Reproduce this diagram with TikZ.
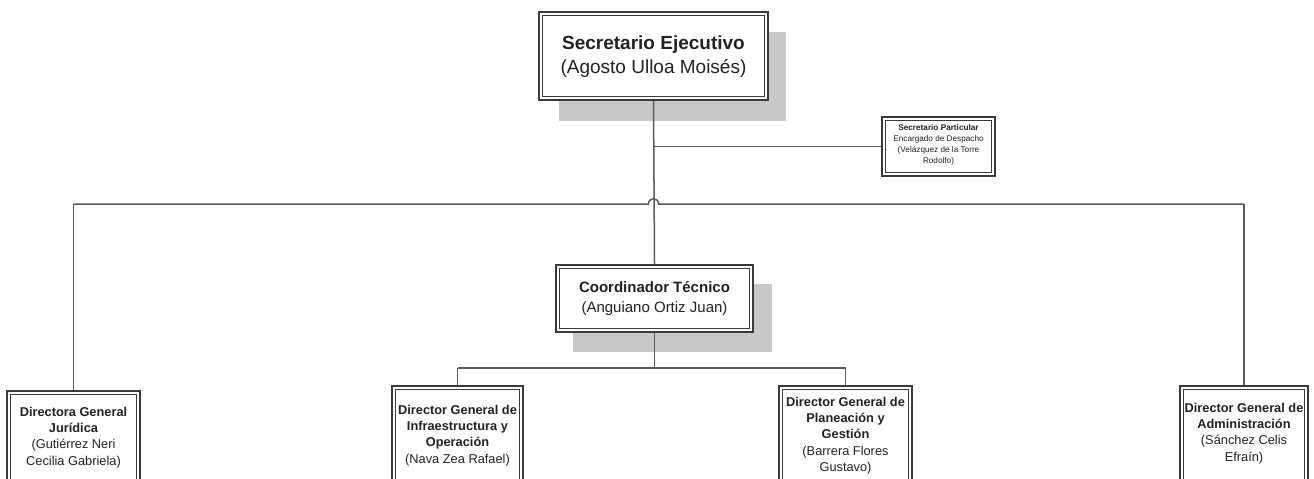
\documentclass[tikz,border=0pt]{standalone}
\usepackage{fontspec}
\setmainfont{Liberation Sans}
\usetikzlibrary{calc}
\definecolor{brd}{HTML}{3A3A3A}
\definecolor{lin}{HTML}{5A5A5A}
\definecolor{shd}{HTML}{C8C8C8}
\definecolor{txt}{HTML}{222222}
\tikzset{
  orgbox/.style={draw=brd, line width=2.4pt, fill=white, rectangle, inner sep=0pt, text=txt,
    path picture={\draw[brd, line width=1.1pt]
      ([xshift=3.6pt,yshift=-3.6pt]path picture bounding box.north west) rectangle
      ([xshift=-3.6pt,yshift=3.6pt]path picture bounding box.south east);}},
  shadowbox/.style={fill=shd, draw=none},
  conn/.style={draw=lin, line width=1.5pt},
  lbl/.style={align=center, inner sep=0pt, text=txt}
}
\begin{document}
\begin{tikzpicture}[x=1pt,y=-1pt]
\useasboundingbox (0,0) rectangle (1314,479);
\clip (0,0) rectangle (1314,479);
% shadows
\fill[shadowbox] (559,32) rectangle (786,121);
\fill[shadowbox] (573,284) rectangle (772,352);
% top box
\node[orgbox, minimum width=229pt, minimum height=88pt] (top) at (653.5,56) {};
\node[lbl, font=\fontsize{19}{24}\selectfont] (toptxt) at (653.5,57)
  {\textbf{Secretario Ejecutivo}\\(Agosto Ulloa Moisés)};
% secretario particular
\node[orgbox, line width=2pt, minimum width=113pt, minimum height=59pt] (sp) at (938.5,146.5) {};
\node[lbl, font=\fontsize{8.2}{10.8}\selectfont] (sptxt) at (938.5,145)
  {\textbf{Secretario Particular}\\Encargado de Despacho\\(Velázquez de la Torre\\Rodolfo)};
% coordinador
\node[orgbox, minimum width=197pt, minimum height=67pt] (coord) at (654.5,298.5) {};
\node[lbl, font=\fontsize{15}{20}\selectfont] (coordtxt) at (654.5,299)
  {\textbf{Coordinador Técnico}\\(Anguiano Ortiz Juan)};
% bottom boxes
\node[orgbox, minimum width=133pt, minimum height=94pt, anchor=north] (d1) at (73.5,390) {};
\node[orgbox, minimum width=131pt, minimum height=99pt, anchor=north] (d2) at (457.5,385) {};
\node[orgbox, minimum width=133pt, minimum height=99pt, anchor=north] (d3) at (845.5,385) {};
\node[orgbox, minimum width=128pt, minimum height=99pt, anchor=north] (d4) at (1244,385) {};
\begin{scope}[every node/.style={lbl, font=\fontsize{12.8}{16.2}\selectfont, anchor=north}]
\node (t1) at (73.5,407) {\textbf{Directora General}\\\textbf{Jurídica}\\(Gutiérrez Neri\\Cecilia Gabriela)};
\node (t2) at (457.5,405) {\textbf{Director General de}\\\textbf{Infraestructura y}\\\textbf{Operación}\\(Nava Zea Rafael)};
\node (t3) at (845.5,397) {\textbf{Director General de}\\\textbf{Planeación y}\\\textbf{Gestión}\\(Barrera Flores\\Gustavo)};
\node (t4) at (1244,403) {\textbf{Director General de}\\\textbf{Administración}\\(Sánchez Celis\\Efraín)};
\end{scope}
% connectors
\coordinate (jsp) at (top.south |- sp.west);
\coordinate (L) at (d1.north |- 0,204);
\coordinate (R) at (d4.north |- 0,204);
\coordinate (hopa) at ($(top.south |- 0,204)+(-5,0)$);
\coordinate (hopb) at ($(top.south |- 0,204)+(5,0)$);
\coordinate (cj) at (coord.south |- 0,368);
\coordinate (cl) at (d2.north |- 0,368);
\coordinate (cr) at (d3.north |- 0,368);
\draw[conn] (top.south) -- (coord.north);
\draw[conn] (jsp) -- (sp.west);
\draw[conn] (L) -- (hopa) .. controls ($(hopa)+(0,-7)$) and ($(hopb)+(0,-7)$) .. (hopb) -- (R);
\draw[conn] (L) -- (d1.north);
\draw[conn] (R) -- (d4.north);
\draw[conn] (coord.south) -- (cj);
\draw[conn] (cl) -- (cr);
\draw[conn] (cl) -- (d2.north);
\draw[conn] (cr) -- (d3.north);
\end{tikzpicture}
\end{document}
